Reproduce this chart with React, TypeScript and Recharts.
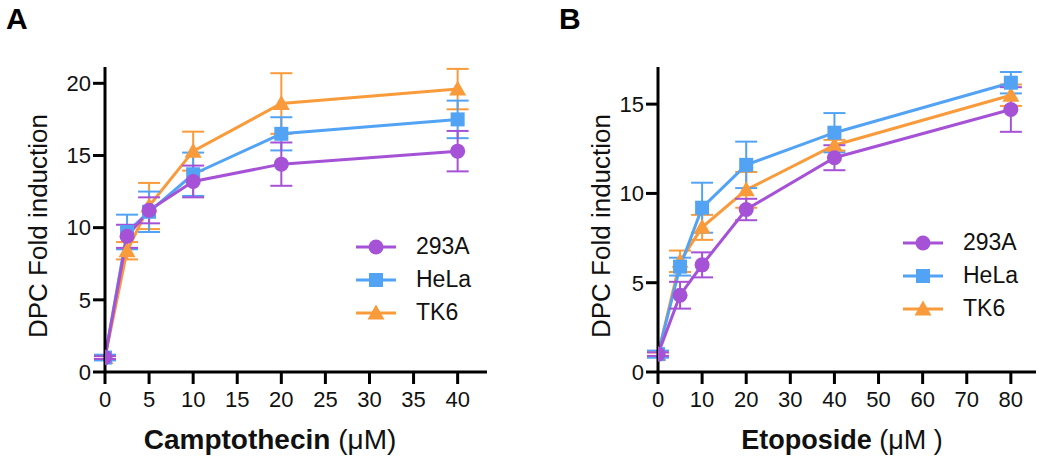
import React from 'react';
import { LineChart, Line, XAxis, YAxis, ErrorBar } from 'recharts';

const FONT = '"Liberation Sans", Arial, Helvetica, sans-serif';

const COLOR_293A = '#A552D6';
const COLOR_HELA = '#53A3F5';
const COLOR_TK6 = '#F99B3B';

// Panel A: Camptothecin
const doseA = [0, 2.5, 5, 10, 20, 40];
const a293A = [1.0, 9.4, 11.2, 13.2, 14.4, 15.3];
const a293AErr = [0.1, 0.8, 0.9, 1.1, 1.5, 1.4];
const aHeLa = [1.0, 9.7, 11.1, 13.7, 16.5, 17.5];
const aHeLaErr = [0.2, 1.2, 1.4, 1.5, 1.15, 1.3];
const aTK6 = [1.0, 8.4, 11.5, 15.3, 18.6, 19.6];
const aTK6Err = [0.1, 0.6, 1.6, 1.35, 2.1, 1.4];
const xTicksA = [0, 5, 10, 15, 20, 25, 30, 35, 40];
const yTicksA = [0, 5, 10, 15, 20];

// Panel B: Etoposide
const doseB = [0, 5, 10, 20, 40, 80];
const b293A = [1.0, 4.3, 6.0, 9.1, 12.0, 14.7];
const b293AErr = [0.1, 0.75, 0.7, 0.6, 0.7, 1.25];
const bHeLa = [1.0, 5.9, 9.2, 11.6, 13.4, 16.2];
const bHeLaErr = [0.2, 0.5, 1.4, 1.3, 1.1, 0.6];
const bTK6 = [1.0, 6.2, 8.1, 10.2, 12.7, 15.5];
const bTK6Err = [0.1, 0.6, 0.7, 1.0, 0.3, 0.6];
const xTicksB = [0, 10, 20, 30, 40, 50, 60, 70, 80];
const yTicksB = [0, 5, 10, 15];

const seriesNames = ['293A', 'HeLa', 'TK6'];

function buildRows(x, s1, e1, s2, e2, s3, e3) {
  return x.map((v, i) => ({ x: v, a: s1[i], aErr: e1[i], h: s2[i], hErr: e2[i], t: s3[i], tErr: e3[i] }));
}

const dataA = buildRows(doseA, a293A, a293AErr, aHeLa, aHeLaErr, aTK6, aTK6Err);
const dataB = buildRows(doseB, b293A, b293AErr, bHeLa, bHeLaErr, bTK6, bTK6Err);

const circleDot = (p: any) => (
  <circle key={`c${p.index}`} cx={p.cx} cy={p.cy} r={7.5} fill={COLOR_293A} stroke="none" />
);
const squareDot = (p: any) => (
  <rect key={`s${p.index}`} x={p.cx - 7} y={p.cy - 7} width={14} height={14} fill={COLOR_HELA} stroke="none" />
);
const triDot = (p: any) => (
  <polygon
    key={`t${p.index}`}
    points={`${p.cx},${p.cy - 8.5} ${p.cx - 8.5},${p.cy + 6.5} ${p.cx + 8.5},${p.cy + 6.5}`}
    fill={COLOR_TK6}
    stroke="none"
  />
);

const LegendMarker = ({ kind, color }: { kind: string; color: string }) => (
  <svg width={40} height={20} style={{ display: 'block' }}>
    <line x1={0} y1={10} x2={40} y2={10} stroke={color} strokeWidth={3} />
    {kind === 'circle' && <circle cx={20} cy={10} r={7.5} fill={color} />}
    {kind === 'square' && <rect x={13} y={3} width={14} height={14} fill={color} />}
    {kind === 'triangle' && <polygon points="20,1.5 11.5,16.5 28.5,16.5" fill={color} />}
  </svg>
);

const legendItems = [
  { name: seriesNames[0], kind: 'circle', color: COLOR_293A },
  { name: seriesNames[1], kind: 'square', color: COLOR_HELA },
  { name: seriesNames[2], kind: 'triangle', color: COLOR_TK6 },
];

const LegendBox = ({ left, top }: { left: number; top: number }) => (
  <div style={{ position: 'absolute', left, top, fontFamily: FONT }}>
    {legendItems.map((it) => (
      <div key={it.name} style={{ display: 'flex', alignItems: 'center', height: 33 }}>
        <LegendMarker kind={it.kind} color={it.color} />
        <span style={{ marginLeft: 20, fontSize: 23, color: '#111', lineHeight: '33px' }}>{it.name}</span>
      </div>
    ))}
  </div>
);

const axisLine = { stroke: '#000', strokeWidth: 3 };
const tickLine = { stroke: '#000', strokeWidth: 3 };
const tickStyle = { fontSize: 22, fill: '#111', fontFamily: FONT };

function Panel({ data, xTicks, yTicks, xMax, yMax, width, marginLeft, marginRight, xLabelBold, xLabelRest, xLabelDx, xLabelSize, yLabelOff, letter, letterX }) {
  const yAxisW = 60;
  const xAxisH = 60;
  return (
    <LineChart
      width={width}
      height={464}
      data={data}
      margin={{ top: 67, right: marginRight, left: marginLeft - yAxisW, bottom: 92 - xAxisH }}
      style={{ fontFamily: FONT }}
    >
      <XAxis
        dataKey="x"
        type="number"
        domain={[0, xMax]}
        ticks={xTicks}
        allowDataOverflow
        height={xAxisH}
        axisLine={axisLine}
        tickLine={tickLine}
        tickSize={12}
        tickMargin={7}
        tick={tickStyle}
        interval={0}
        label={{
          content: (props: any) => {
            const vb = props.viewBox;
            return (
              <text x={vb.x + vb.width / 2 + xLabelDx} y={449} textAnchor="middle" fontFamily={FONT} fontSize={xLabelSize} fill="#111">
                <tspan fontWeight="bold">{xLabelBold}</tspan>
                <tspan>{xLabelRest}</tspan>
              </text>
            );
          },
        }}
      />
      <YAxis
        type="number"
        domain={[0, yMax]}
        ticks={yTicks}
        allowDataOverflow
        width={yAxisW}
        axisLine={axisLine}
        tickLine={tickLine}
        tickSize={12}
        tickMargin={2}
        tick={tickStyle}
        interval={0}
        label={{
          content: (props: any) => {
            const vb = props.viewBox;
            const bx = vb.x + vb.width - yLabelOff;
            const cy = vb.y + vb.height / 2 + 6.5;
            return (
              <text x={bx} y={cy} transform={`rotate(-90 ${bx} ${cy})`} textAnchor="middle" fontFamily={FONT} fontSize={26} fill="#111">
                DPC Fold induction
              </text>
            );
          },
        }}
      />
      <Line dataKey="t" name={seriesNames[2]} stroke={COLOR_TK6} strokeWidth={3} dot={triDot} activeDot={false} isAnimationActive={false}>
        <ErrorBar dataKey="tErr" width={11} stroke={COLOR_TK6} strokeWidth={2} direction="y" />
      </Line>
      <Line dataKey="h" name={seriesNames[1]} stroke={COLOR_HELA} strokeWidth={3} dot={squareDot} activeDot={false} isAnimationActive={false}>
        <ErrorBar dataKey="hErr" width={11} stroke={COLOR_HELA} strokeWidth={2} direction="y" />
      </Line>
      <Line dataKey="a" name={seriesNames[0]} stroke={COLOR_293A} strokeWidth={3} dot={circleDot} activeDot={false} isAnimationActive={false}>
        <ErrorBar dataKey="aErr" width={11} stroke={COLOR_293A} strokeWidth={2} direction="y" />
      </Line>
      <text x={letterX} y={29} fontFamily={FONT} fontSize={30} fontWeight="bold" fill="#000">{letter}</text>
    </LineChart>
  );
}

export default function App() {
  return (
    <div style={{ position: 'absolute', left: 0, top: 0, width: 1050, height: 464, background: '#fff', fontFamily: FONT }}>
      <div style={{ position: 'absolute', left: 0, top: 0 }}>
        <Panel
          data={dataA}
          xTicks={xTicksA}
          yTicks={yTicksA}
          xMax={43.33}
          yMax={21.13}
          width={520}
          marginLeft={105}
          marginRight={33}
          xLabelBold="Camptothecin"
          xLabelRest=" (μM)"
          xLabelDx={-26}
          xLabelSize={28}
          yLabelOff={58}
          letter="A"
          letterX={6}
        />
      </div>
      <div style={{ position: 'absolute', left: 520, top: 0 }}>
        <Panel
          data={dataB}
          xTicks={xTicksB}
          yTicks={yTicksB}
          xMax={85.7}
          yMax={17.08}
          width={530}
          marginLeft={138}
          marginRight={14}
          xLabelBold="Etoposide"
          xLabelRest=" (μM )"
          xLabelDx={-5}
          xLabelSize={27}
          yLabelOff={48}
          letter="B"
          letterX={39}
        />
      </div>
      <LegendBox left={356} top={230} />
      <LegendBox left={903} top={226} />
    </div>
  );
}
